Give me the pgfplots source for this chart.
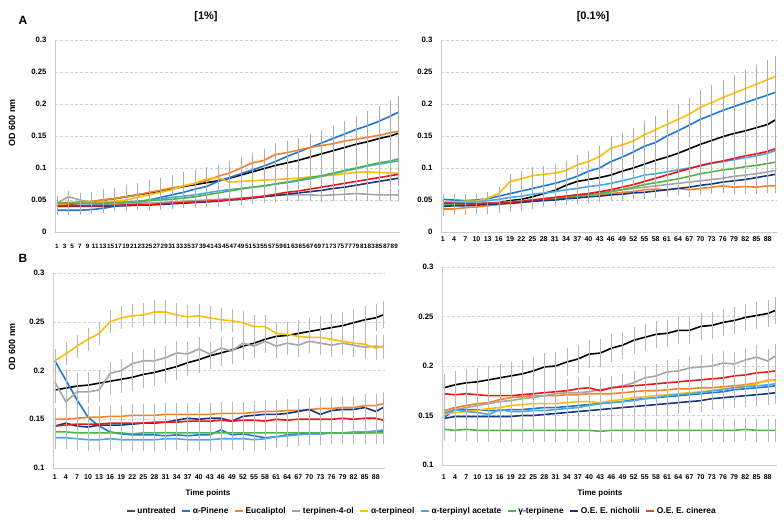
\documentclass[border=0pt]{standalone}
\usepackage{pgfplots}
\usepackage{pgfplotstable}
\usepackage{fontspec}
\setmainfont{Liberation Sans}
\pgfplotsset{compat=1.18}

\definecolor{cUn}{RGB}{0,0,0}
\definecolor{cUnL}{RGB}{80,80,80}
\definecolor{cAp}{RGB}{30,120,210}
\definecolor{cEu}{RGB}{247,128,40}
\definecolor{cT4}{RGB}{165,165,165}
\definecolor{cTe}{RGB}{255,192,0}
\definecolor{cTa}{RGB}{70,170,230}
\definecolor{cGt}{RGB}{80,180,70}
\definecolor{cNi}{RGB}{25,55,125}
\definecolor{cCi}{RGB}{240,20,20}
\definecolor{cCiL}{RGB}{215,80,30}

\pgfplotstableread{
x un ap eu t4 te ta gt ni ci
1 0.042 0.034 0.045 0.045 0.043 0.040 0.045 0.040 0.041
4 0.043 0.034 0.046 0.055 0.044 0.041 0.045 0.040 0.041
7 0.045 0.034 0.047 0.050 0.045 0.042 0.045 0.040 0.041
10 0.047 0.035 0.048 0.046 0.046 0.042 0.045 0.040 0.041
13 0.050 0.037 0.050 0.045 0.047 0.043 0.045 0.040 0.041
16 0.052 0.040 0.052 0.045 0.048 0.045 0.046 0.041 0.042
19 0.055 0.043 0.055 0.045 0.050 0.046 0.047 0.041 0.042
22 0.058 0.046 0.058 0.045 0.054 0.048 0.048 0.042 0.043
25 0.061 0.050 0.062 0.046 0.058 0.050 0.049 0.042 0.043
28 0.064 0.054 0.065 0.046 0.062 0.052 0.050 0.043 0.044
31 0.067 0.058 0.069 0.047 0.066 0.054 0.051 0.044 0.045
34 0.071 0.062 0.072 0.048 0.072 0.056 0.053 0.045 0.046
37 0.074 0.067 0.076 0.049 0.076 0.058 0.055 0.046 0.047
40 0.077 0.071 0.080 0.050 0.083 0.061 0.058 0.047 0.048
43 0.080 0.079 0.087 0.051 0.085 0.064 0.061 0.048 0.049
46 0.084 0.085 0.092 0.052 0.078 0.066 0.064 0.050 0.050
49 0.089 0.091 0.100 0.053 0.079 0.068 0.067 0.051 0.052
52 0.094 0.097 0.108 0.054 0.080 0.070 0.070 0.053 0.054
55 0.099 0.103 0.112 0.056 0.081 0.072 0.072 0.055 0.056
58 0.104 0.110 0.121 0.057 0.082 0.075 0.075 0.057 0.059
61 0.108 0.118 0.124 0.058 0.083 0.077 0.078 0.059 0.062
64 0.112 0.125 0.128 0.058 0.084 0.080 0.081 0.061 0.064
67 0.117 0.132 0.132 0.058 0.086 0.083 0.085 0.063 0.067
70 0.122 0.139 0.135 0.057 0.087 0.087 0.088 0.065 0.070
73 0.127 0.146 0.138 0.058 0.089 0.091 0.092 0.068 0.073
76 0.132 0.153 0.142 0.059 0.091 0.095 0.096 0.070 0.076
79 0.137 0.160 0.145 0.060 0.093 0.099 0.100 0.073 0.079
82 0.141 0.166 0.148 0.059 0.094 0.103 0.104 0.076 0.082
85 0.146 0.173 0.151 0.058 0.093 0.106 0.108 0.079 0.085
88 0.150 0.181 0.155 0.058 0.092 0.109 0.111 0.082 0.088
90 0.154 0.187 0.157 0.058 0.092 0.111 0.114 0.084 0.090
}\tabAL

\pgfplotstableread{
x un ap eu t4 te ta gt ni ci
1 0.040 0.051 0.036 0.043 0.047 0.045 0.042 0.040 0.045
4 0.042 0.050 0.036 0.043 0.047 0.046 0.042 0.041 0.045
7 0.043 0.049 0.038 0.044 0.048 0.046 0.043 0.041 0.044
10 0.044 0.050 0.039 0.044 0.048 0.047 0.043 0.042 0.044
13 0.045 0.052 0.041 0.045 0.053 0.049 0.044 0.043 0.045
16 0.046 0.056 0.043 0.046 0.060 0.051 0.044 0.044 0.045
19 0.049 0.060 0.045 0.047 0.079 0.054 0.045 0.045 0.046
22 0.051 0.064 0.047 0.049 0.083 0.056 0.047 0.046 0.048
25 0.055 0.068 0.049 0.050 0.088 0.059 0.048 0.048 0.050
28 0.060 0.072 0.051 0.052 0.090 0.061 0.050 0.049 0.052
31 0.065 0.076 0.053 0.054 0.092 0.063 0.052 0.050 0.054
34 0.073 0.081 0.055 0.056 0.096 0.066 0.053 0.052 0.056
37 0.079 0.087 0.057 0.058 0.105 0.068 0.055 0.053 0.058
40 0.082 0.095 0.058 0.060 0.110 0.071 0.058 0.055 0.060
43 0.085 0.100 0.059 0.062 0.118 0.073 0.060 0.056 0.063
46 0.089 0.110 0.060 0.064 0.131 0.076 0.063 0.058 0.066
49 0.095 0.117 0.062 0.066 0.136 0.080 0.066 0.059 0.070
52 0.100 0.125 0.063 0.068 0.142 0.084 0.070 0.061 0.074
55 0.106 0.134 0.066 0.070 0.152 0.089 0.074 0.062 0.079
58 0.112 0.140 0.067 0.072 0.160 0.091 0.077 0.064 0.084
61 0.117 0.150 0.066 0.074 0.168 0.094 0.080 0.066 0.089
64 0.123 0.158 0.068 0.076 0.176 0.097 0.083 0.068 0.094
67 0.130 0.167 0.066 0.078 0.184 0.100 0.087 0.070 0.099
70 0.137 0.176 0.068 0.080 0.195 0.103 0.091 0.073 0.104
73 0.143 0.183 0.070 0.082 0.202 0.107 0.094 0.075 0.108
76 0.149 0.190 0.072 0.084 0.210 0.110 0.097 0.078 0.111
79 0.154 0.196 0.070 0.087 0.217 0.113 0.099 0.080 0.115
82 0.158 0.202 0.071 0.089 0.224 0.116 0.102 0.082 0.119
85 0.163 0.208 0.070 0.091 0.231 0.119 0.104 0.085 0.122
88 0.168 0.214 0.072 0.094 0.238 0.123 0.107 0.088 0.126
90 0.175 0.218 0.072 0.096 0.243 0.127 0.109 0.090 0.130
}\tabAR

\pgfplotstableread{
x un ap eu t4 te ta gt ni ci
1 0.180 0.210 0.150 0.188 0.210 0.131 0.137 0.143 0.143
4 0.182 0.190 0.150 0.168 0.217 0.131 0.137 0.146 0.144
7 0.184 0.170 0.151 0.178 0.225 0.130 0.136 0.143 0.145
10 0.185 0.152 0.152 0.178 0.232 0.129 0.136 0.142 0.145
13 0.187 0.143 0.152 0.180 0.238 0.129 0.136 0.144 0.145
16 0.189 0.137 0.153 0.197 0.250 0.130 0.136 0.144 0.146
19 0.191 0.135 0.153 0.200 0.254 0.129 0.136 0.144 0.146
22 0.193 0.134 0.154 0.207 0.256 0.129 0.135 0.145 0.146
25 0.196 0.134 0.154 0.210 0.257 0.129 0.136 0.146 0.146
28 0.198 0.134 0.154 0.210 0.260 0.129 0.136 0.146 0.147
31 0.201 0.133 0.155 0.213 0.260 0.130 0.136 0.147 0.147
34 0.204 0.134 0.155 0.218 0.257 0.130 0.136 0.149 0.147
37 0.208 0.133 0.155 0.217 0.255 0.129 0.136 0.151 0.148
40 0.211 0.134 0.155 0.222 0.256 0.129 0.136 0.150 0.148
43 0.215 0.134 0.155 0.217 0.254 0.129 0.136 0.151 0.148
46 0.218 0.139 0.156 0.223 0.252 0.130 0.136 0.151 0.149
49 0.221 0.134 0.156 0.220 0.251 0.130 0.136 0.148 0.148
52 0.225 0.135 0.156 0.228 0.249 0.130 0.136 0.153 0.149
55 0.228 0.133 0.157 0.225 0.245 0.129 0.136 0.154 0.149
58 0.232 0.131 0.158 0.230 0.245 0.130 0.136 0.155 0.148
61 0.235 0.132 0.158 0.225 0.238 0.132 0.136 0.155 0.150
64 0.236 0.134 0.159 0.228 0.237 0.133 0.136 0.156 0.149
67 0.238 0.135 0.159 0.226 0.235 0.134 0.136 0.158 0.150
70 0.240 0.135 0.160 0.230 0.234 0.135 0.136 0.160 0.150
73 0.242 0.135 0.161 0.228 0.234 0.135 0.136 0.155 0.150
76 0.244 0.136 0.161 0.226 0.232 0.136 0.136 0.159 0.150
79 0.246 0.136 0.162 0.228 0.230 0.136 0.136 0.160 0.151
82 0.249 0.136 0.162 0.226 0.228 0.137 0.136 0.160 0.150
85 0.252 0.136 0.164 0.224 0.227 0.137 0.136 0.162 0.151
88 0.254 0.137 0.164 0.225 0.223 0.138 0.136 0.158 0.151
90 0.257 0.138 0.166 0.224 0.225 0.139 0.136 0.162 0.149
}\tabBL

\pgfplotstableread{
x un ap eu t4 te ta gt ni ci
1 0.178 0.148 0.155 0.153 0.151 0.152 0.136 0.147 0.172
4 0.181 0.156 0.158 0.156 0.153 0.156 0.135 0.149 0.171
7 0.183 0.156 0.160 0.158 0.154 0.154 0.136 0.149 0.172
10 0.184 0.156 0.162 0.160 0.155 0.153 0.135 0.149 0.171
13 0.186 0.155 0.163 0.162 0.157 0.151 0.135 0.149 0.170
16 0.188 0.155 0.166 0.164 0.158 0.156 0.135 0.149 0.170
19 0.190 0.156 0.168 0.165 0.160 0.154 0.135 0.149 0.170
22 0.192 0.156 0.169 0.167 0.161 0.154 0.135 0.150 0.171
25 0.195 0.157 0.170 0.168 0.162 0.155 0.135 0.150 0.172
28 0.199 0.158 0.170 0.170 0.162 0.155 0.135 0.151 0.173
31 0.200 0.158 0.170 0.172 0.162 0.156 0.135 0.152 0.174
34 0.204 0.159 0.171 0.173 0.163 0.157 0.135 0.153 0.175
37 0.207 0.160 0.171 0.173 0.164 0.158 0.135 0.154 0.177
40 0.212 0.161 0.172 0.174 0.164 0.160 0.135 0.155 0.178
43 0.213 0.162 0.172 0.176 0.163 0.162 0.134 0.156 0.175
46 0.218 0.163 0.172 0.178 0.165 0.163 0.135 0.157 0.178
49 0.221 0.164 0.173 0.180 0.166 0.164 0.135 0.158 0.179
52 0.226 0.166 0.174 0.183 0.168 0.165 0.135 0.159 0.180
55 0.229 0.167 0.175 0.188 0.169 0.167 0.135 0.160 0.181
58 0.232 0.168 0.175 0.190 0.170 0.168 0.135 0.161 0.182
61 0.233 0.169 0.176 0.194 0.171 0.170 0.135 0.162 0.183
64 0.236 0.170 0.177 0.195 0.172 0.171 0.135 0.163 0.184
67 0.236 0.171 0.177 0.198 0.173 0.172 0.135 0.164 0.185
70 0.240 0.172 0.178 0.199 0.174 0.173 0.135 0.165 0.186
73 0.241 0.173 0.178 0.200 0.175 0.175 0.135 0.167 0.187
76 0.244 0.174 0.179 0.203 0.177 0.176 0.135 0.168 0.188
79 0.246 0.176 0.180 0.202 0.178 0.178 0.135 0.169 0.190
82 0.249 0.177 0.181 0.206 0.180 0.179 0.136 0.170 0.191
85 0.251 0.178 0.183 0.209 0.182 0.180 0.135 0.171 0.193
88 0.253 0.179 0.185 0.205 0.186 0.181 0.135 0.172 0.194
90 0.256 0.180 0.186 0.210 0.185 0.182 0.135 0.173 0.195
}\tabBR

\pgfplotsset{
  ebr/.style={error bars/.cd, y dir=both, y fixed relative=#1,
    error bar style={black!32, line width=0.35pt},
    error mark options={black!32, line width=0.35pt, mark size=1.8pt}},
  ebf/.style={error bars/.cd, y dir=both, y fixed=#1,
    error bar style={black!28, line width=0.35pt},
    error mark options={black!28, line width=0.35pt, mark size=1.8pt}},
  panel/.style={
    scale only axis, clip=false,
    xmin=0.5, xmax=90.5,
    axis x line*=bottom, axis y line*=left,
    axis line style={black!20, -},
    major tick length=0pt,
    ymajorgrids, grid style={densely dashed, black!18},
    scaled y ticks=false,
    /pgf/number format/fixed, /pgf/number format/precision=2,
    /pgf/number format/assume math mode=true,
    yticklabel style={font=\bfseries\fontsize{7.8}{9}\selectfont, xshift=-5pt},
    no markers,
  },
}

\newcommand{\drawseries}[3]{%
  \addplot[cUn, line width=1.6pt, #2] table[x=x, y=un] {#1};
  \addplot[cAp, line width=1.6pt, #3] table[x=x, y=ap] {#1};
  \addplot[cEu, line width=1.6pt, #3] table[x=x, y=eu] {#1};
  \addplot[cT4, line width=1.6pt, #3] table[x=x, y=t4] {#1};
  \addplot[cTe, line width=1.6pt, #3] table[x=x, y=te] {#1};
  \addplot[cTa, line width=1.6pt, #3] table[x=x, y=ta] {#1};
  \addplot[cGt, line width=1.6pt, #3] table[x=x, y=gt] {#1};
  \addplot[cNi, line width=1.6pt, #3] table[x=x, y=ni] {#1};
  \addplot[cCi, line width=1.6pt, #3] table[x=x, y=ci] {#1};
}

\begin{document}
\begin{tikzpicture}
\useasboundingbox (0,0) rectangle (784pt,521pt);

% Panel A left [1%]
\begin{axis}[panel, at={(55pt,289pt)}, anchor=south west,
  width=345pt, height=192pt,
  ymin=0, ymax=0.3, ytick={0,0.05,0.1,0.15,0.2,0.25,0.3},
  xtick={1,3,...,89},
  xticklabel style={font=\bfseries\fontsize{6.3}{7}\selectfont, yshift=-9pt, inner xsep=0pt}]
  \drawseries{\tabAL}{ebr=0.28}{ebr=0.12}
\end{axis}

% Panel A right [0.1%]
\begin{axis}[panel, at={(441pt,289pt)}, anchor=south west,
  width=336pt, height=192pt,
  ymin=0, ymax=0.3, ytick={0,0.05,0.1,0.15,0.2,0.25,0.3},
  xtick={1,4,...,88},
  xticklabel style={font=\bfseries\fontsize{7}{8}\selectfont, yshift=-1pt}]
  \drawseries{\tabAR}{ebr=0.3}{ebr=0.12}
\end{axis}

% Panel B left
\begin{axis}[panel, at={(53pt,53pt)}, anchor=south west,
  width=332pt, height=195pt,
  ymin=0.1, ymax=0.3, ytick={0.1,0.15,0.2,0.25,0.3},
  xtick={1,4,...,88},
  xticklabel style={font=\bfseries\fontsize{7}{8}\selectfont, yshift=-3pt}]
  \drawseries{\tabBL}{ebf=0.012}{ebf=0.01}
\end{axis}

% Panel B right
\begin{axis}[panel, at={(442pt,56pt)}, anchor=south west,
  width=335pt, height=198pt,
  ymin=0.1, ymax=0.3, ytick={0.1,0.15,0.2,0.25,0.3},
  xtick={1,4,...,88},
  xticklabel style={font=\bfseries\fontsize{7}{8}\selectfont, yshift=-6pt}]
  \drawseries{\tabBR}{ebf=0.012}{ebf=0.01}
\end{axis}

% Legend
\begin{axis}[hide axis, scale only axis, width=600pt, height=8pt,
  at={(422pt,10pt)}, anchor=center,
  xmin=0, xmax=1, ymin=0, ymax=1,
  legend columns=9,
  legend style={at={(0.5,0.5)}, anchor=center, draw=none, fill=none,
    font=\bfseries\fontsize{8.4}{9}\selectfont, inner sep=0pt,
    /tikz/every even column/.append style={column sep=4pt}},
  legend image code/.code={\draw[#1, line width=1.2pt] (0pt,0pt) -- (8pt,0pt);}]
  \addlegendimage{cUnL}\addlegendentry{untreated}
  \addlegendimage{cAp}\addlegendentry{α-Pinene}
  \addlegendimage{cEu}\addlegendentry{Eucaliptol}
  \addlegendimage{cT4}\addlegendentry{terpinen-4-ol}
  \addlegendimage{cTe}\addlegendentry{α-terpineol}
  \addlegendimage{cTa}\addlegendentry{α-terpinyl acetate}
  \addlegendimage{cGt}\addlegendentry{γ-terpinene}
  \addlegendimage{cNi}\addlegendentry{O.E. E. nicholii}
  \addlegendimage{cCiL}\addlegendentry{O.E. E. cinerea}
\end{axis}

% Texts
\node[font=\bfseries\fontsize{12}{14}\selectfont] at (23pt,501pt) {A};
\node[font=\bfseries\fontsize{12}{14}\selectfont] at (23pt,263pt) {B};
\node[font=\bfseries\fontsize{11}{13}\selectfont] at (206pt,504pt) {[1\%]};
\node[font=\bfseries\fontsize{11}{13}\selectfont] at (593pt,504pt) {[0.1\%]};
\node[font=\bfseries\fontsize{9}{11}\selectfont, rotate=90] at (12pt,398pt) {OD 600 nm};
\node[font=\bfseries\fontsize{9}{11}\selectfont, rotate=90] at (12pt,174pt) {OD 600 nm};
\node[font=\bfseries\fontsize{8}{10}\selectfont] at (208pt,28pt) {Time points};
\node[font=\bfseries\fontsize{8}{10}\selectfont] at (600pt,28pt) {Time points};
\end{tikzpicture}
\end{document}
